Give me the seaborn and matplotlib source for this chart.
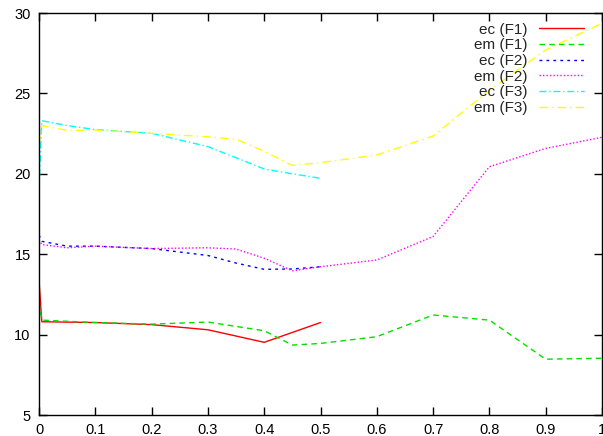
import matplotlib
matplotlib.use("Agg")
import matplotlib.pyplot as plt
import seaborn as sns
import pandas as pd

sns.set_style("ticks")
plt.rcParams['font.family'] = ['Liberation Sans', 'DejaVu Sans']

# ---- data ----
x_ec_f1 = [0.0, 0.005, 0.1, 0.2, 0.3, 0.4, 0.5]
y_ec_f1 = [13.4, 10.8, 10.75, 10.62, 10.3, 9.52, 10.75]

x_em_f1 = [0.0, 0.005, 0.1, 0.2, 0.3, 0.4, 0.45, 0.5, 0.6, 0.7, 0.8, 0.9, 1.0]
y_em_f1 = [12.0, 10.9, 10.75, 10.65, 10.78, 10.24, 9.35, 9.45, 9.87, 11.22, 10.9, 8.47, 8.53]

x_ec_f2 = [0.0, 0.005, 0.05, 0.1, 0.2, 0.3, 0.35, 0.4, 0.45, 0.5]
y_ec_f2 = [16.2, 15.8, 15.5, 15.5, 15.35, 14.92, 14.45, 14.06, 14.08, 14.22]

x_em_f2 = [0.0, 0.005, 0.05, 0.1, 0.2, 0.3, 0.35, 0.4, 0.45, 0.5, 0.6, 0.7, 0.8, 0.9, 1.0]
y_em_f2 = [15.9, 15.6, 15.4, 15.5, 15.35, 15.4, 15.32, 14.75, 13.97, 14.22, 14.64, 16.1, 20.44, 21.58, 22.27]

x_ec_f3 = [0.0, 0.005, 0.05, 0.1, 0.2, 0.3, 0.35, 0.4, 0.45, 0.5]
y_ec_f3 = [19.0, 23.3, 23.0, 22.75, 22.52, 21.69, 21.0, 20.3, 20.0, 19.72]

x_em_f3 = [0.0, 0.005, 0.05, 0.1, 0.2, 0.3, 0.35, 0.4, 0.45, 0.5, 0.6, 0.7, 0.8, 0.9, 1.0]
y_em_f3 = [21.8, 23.0, 22.7, 22.72, 22.52, 22.3, 22.15, 21.4, 20.52, 20.69, 21.17, 22.35, 25.2, 27.7, 29.36]

labels = ["ec (F1)", "em (F1)", "ec (F2)", "em (F2)", "ec (F3)", "em (F3)"]
xs = [x_ec_f1, x_em_f1, x_ec_f2, x_em_f2, x_ec_f3, x_em_f3]
ys = [y_ec_f1, y_em_f1, y_ec_f2, y_em_f2, y_ec_f3, y_em_f3]

colors = ["#ff0000", "#00e000", "#0000ff", "#ff00ff", "#00ffff", "#ffff00"]
styles = ["-", (0, (4, 3)), (0, (2, 3)), (0, (1, 1.5)), (0, (5, 2, 1, 2)), (0, (6, 3, 1, 3))]

fig = plt.figure(figsize=(6.03, 4.36), dpi=100)
ax = fig.add_axes([39 / 603, 1 - 415 / 436, (602 - 39) / 603, (415 - 13) / 436])

for lab, xv, yv, c, ls in zip(labels, xs, ys, colors, styles):
    df = pd.DataFrame({"x": xv, "y": yv})
    sns.lineplot(data=df, x="x", y="y", ax=ax, color=c, linestyle=ls,
                 linewidth=1.0, label=lab, sort=False, estimator=None)

ax.set_xlim(0, 1)
ax.set_ylim(5, 30)
ax.set_xticks([0, 0.1, 0.2, 0.3, 0.4, 0.5, 0.6, 0.7, 0.8, 0.9, 1.0])
ax.set_xticklabels(["0", "0.1", "0.2", "0.3", "0.4", "0.5", "0.6", "0.7", "0.8", "0.9", "1"])
ax.set_yticks([5, 10, 15, 20, 25, 30])
ax.set_xlabel("")
ax.set_ylabel("")
for s in ax.spines.values():
    s.set_visible(True)
    s.set_color("black")
    s.set_linewidth(1.0)
ax.tick_params(direction="in", length=6, width=1, top=True, right=True,
               labelsize=10.5, colors="black", pad=6)

leg = ax.legend(loc="upper right", bbox_to_anchor=(0.9734, 0.9836),
                frameon=False, markerfirst=False,
                fontsize=11, handlelength=2.95, labelspacing=0.11,
                borderaxespad=0.0, borderpad=0.2, handletextpad=0.72)

fig.savefig("out.png", dpi=100)
